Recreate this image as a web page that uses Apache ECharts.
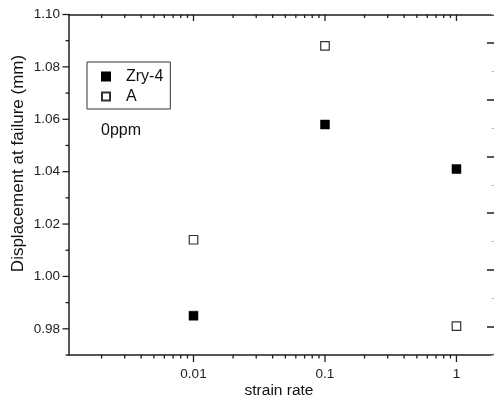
<!DOCTYPE html>
<html>
<head>
<meta charset="utf-8">
<script src="https://cdn.jsdelivr.net/npm/echarts@6/dist/echarts.min.js"></script>
<style>
html,body{margin:0;padding:0;background:#fff;}
#chart{width:494px;height:405px;}
</style>
</head>
<body>
<div id="chart"></div>
<script>
// ---- data ----
const strainRate = [0.01, 0.1, 1];
const zry4 = [0.985, 1.058, 1.041];
const seriesA = [1.014, 1.088, 0.981];
const seriesNames = ['Zry-4', 'A'];

// ---- axes / ticks ----
const X_MIN = 0.00113, X_MAX = 1.93;
const Y_MIN = 0.97, Y_MAX = 1.10;
const xMajorTicks = [0.01, 0.1, 1];
const xMinorTicks = [0.002, 0.003, 0.004, 0.005, 0.006, 0.007, 0.008, 0.009,
                     0.02, 0.03, 0.04, 0.05, 0.06, 0.07, 0.08, 0.09,
                     0.2, 0.3, 0.4, 0.5, 0.6, 0.7, 0.8, 0.9];
const xTickLabels = ['0.01', '0.1', '1'];
const yMajorTicks = [0.98, 1.00, 1.02, 1.04, 1.06, 1.08, 1.10];
const yMinorTicks = [0.97, 0.99, 1.01, 1.03, 1.05, 1.07, 1.09];
const rightTickSlots = ['', '', '', '', '', ''];

const FONT = 'Liberation Sans, Arial, sans-serif';
const AX = '#1e1e1e';

function xTickSeries(vals, lenBottom, lenTop) {
  return {
    type: 'custom', silent: true, clip: false, z: 5,
    data: vals.map(v => [v, Y_MIN]),
    renderItem: function (params, api) {
      const b = api.coord([api.value(0), Y_MIN]);
      const t = api.coord([api.value(0), Y_MAX]);
      const st = { stroke: AX, lineWidth: 1.3 };
      return { type: 'group', children: [
        { type: 'line', shape: { x1: b[0], y1: b[1], x2: b[0], y2: b[1] + lenBottom }, style: st },
        { type: 'line', shape: { x1: t[0], y1: t[1], x2: t[0], y2: t[1] + lenTop }, style: st }
      ]};
    }
  };
}
function yTickSeries(vals, len) {
  return {
    type: 'custom', silent: true, clip: false, z: 5,
    data: vals.map(v => [X_MIN, v]),
    renderItem: function (params, api) {
      const p = api.coord([X_MIN, api.value(1)]);
      return { type: 'line', shape: { x1: p[0] - len, y1: p[1], x2: p[0], y2: p[1] },
               style: { stroke: AX, lineWidth: 1.3 } };
    }
  };
}
const xLabelSeries = {
  type: 'custom', silent: true, clip: false, z: 5,
  data: xMajorTicks.map(v => [v, Y_MIN]),
  renderItem: function (params, api) {
    const b = api.coord([api.value(0), Y_MIN]);
    return { type: 'text', x: b[0], y: b[1] + 12,
             style: { text: xTickLabels[params.dataIndex], fill: '#222', font: '13.5px ' + FONT,
                      align: 'center', verticalAlign: 'top' } };
  }
};

const chart = echarts.init(document.getElementById('chart'), null, { renderer: 'canvas' });
chart.setOption({
  backgroundColor: '#fff',
  animation: false,
  grid: { left: 69, top: 14.5, width: 427, height: 340.5 },
  title: { text: '0ppm', left: 101, top: 123, padding: 0,
           textStyle: { fontFamily: FONT, fontSize: 16, fontWeight: 'normal', color: '#111' } },
  legend: {
    orient: 'vertical', left: 87, top: 62, padding: [6, 7, 4, 14],
    itemWidth: 8, itemHeight: 8, itemGap: 3,
    borderColor: '#333', borderWidth: 1,
    textStyle: { fontFamily: FONT, fontSize: 16, color: '#111', lineHeight: 17, padding: [0, 0, 0, 11] },
    data: seriesNames.map(n => ({ name: n, icon: 'rect' }))
  },
  graphic: [{
    type: 'text', x: 18, y: 163.5, rotation: Math.PI / 2,
    style: { text: 'Displacement at failure (mm)', font: '17px ' + FONT, fill: '#111',
             align: 'center', verticalAlign: 'middle' }
  }],
  xAxis: [{
    type: 'log', logBase: 10, min: X_MIN, max: X_MAX,
    name: 'strain rate', nameLocation: 'middle', nameGap: 28,
    nameTextStyle: { fontFamily: FONT, fontSize: 15.5, color: '#111', padding: [0, 5, 0, 0] },
    axisLine: { show: true, lineStyle: { color: AX, width: 1.5 } },
    axisTick: { show: false }, minorTick: { show: false },
    axisLabel: { show: false },
    splitLine: { show: false }
  }, {
    type: 'log', logBase: 10, min: X_MIN, max: X_MAX, position: 'top',
    axisLine: { show: true, lineStyle: { color: AX, width: 1.5 } },
    axisTick: { show: false }, minorTick: { show: false },
    axisLabel: { show: false }, splitLine: { show: false }
  }],
  yAxis: [{
    type: 'value', min: Y_MIN, max: Y_MAX, interval: 0.01,
    axisLine: { show: true, lineStyle: { color: AX, width: 1.5 } },
    axisTick: { show: false },
    axisLabel: {
      margin: 9, fontFamily: FONT, fontSize: 13.5, color: '#222',
      formatter: function (v) { const k = Math.round(v * 100); return k % 2 === 0 ? (k / 100).toFixed(2) : ''; }
    },
    splitLine: { show: false }
  }, {
    type: 'category', position: 'right', data: rightTickSlots, boundaryGap: true,
    axisLine: { show: false },
    axisTick: { show: true, alignWithLabel: true, inside: true, length: 7, lineStyle: { color: AX, width: 1.5 } },
    axisLabel: { show: false }, splitLine: { show: false }
  }, {
    type: 'category', position: 'right', data: rightTickSlots, boundaryGap: true,
    axisLine: { show: false },
    axisTick: { show: true, alignWithLabel: false, inside: true, length: 2.5, lineStyle: { color: '#bbb', width: 1 } },
    axisLabel: { show: false }, splitLine: { show: false }
  }],
  series: [
    { name: seriesNames[0], type: 'scatter', symbol: 'rect', symbolSize: 9, z: 10,
      itemStyle: { color: '#000', borderColor: '#000', borderWidth: 0.5, opacity: 1 },
      data: strainRate.map((x, i) => [x, zry4[i]]) },
    { name: seriesNames[1], type: 'scatter', symbol: 'rect', symbolSize: 8.5, z: 10,
      itemStyle: { color: '#fff', borderColor: '#333', borderWidth: 1.2, opacity: 1 },
      data: strainRate.map((x, i) => [x, seriesA[i]]) },
    xTickSeries(xMajorTicks, 7, 6.5),
    xTickSeries(xMinorTicks, 3.5, 3.5),
    yTickSeries(yMajorTicks, 6.5),
    yTickSeries(yMinorTicks, 3.5),
    xLabelSeries
  ]
});
</script>
</body>
</html>
